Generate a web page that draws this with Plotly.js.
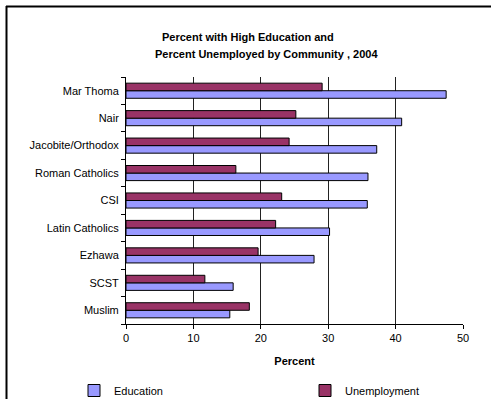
<!DOCTYPE html>
<html>
<head>
<meta charset="utf-8">
<script src="https://cdn.plot.ly/plotly-3.0.1.min.js"></script>
<style>
  html, body { margin: 0; padding: 0; background: #fff; }
  #chart { width: 491px; height: 399px; }
</style>
</head>
<body>
<div id="chart"></div>
<script>
// Communities, listed bottom-to-top along the category axis
const communities = ['Muslim', 'SCST', 'Ezhawa', 'Latin Catholics', 'CSI',
  'Roman Catholics', 'Jacobite/Orthodox', 'Nair', 'Mar Thoma'];
// Percent with high education
const education = [15.4, 15.9, 27.9, 30.2, 35.8, 35.9, 37.2, 40.9, 47.5];
// Percent unemployed
const unemployment = [18.3, 11.7, 19.6, 22.2, 23.1, 16.3, 24.2, 25.2, 29.1];
const xTicks = [0, 10, 20, 30, 40, 50];

const W = 491, H = 399;
const M = { l: 126, r: 28, t: 77, b: 75, autoexpand: false };
const pw = W - M.l - M.r, ph = H - M.t - M.b;
// pixel position -> paper coordinates
const px = x => (x - M.l) / pw;
const py = y => 1 - (y - M.t) / ph;

const font = 'Arial, "Liberation Sans", sans-serif';

const traces = [
  {
    type: 'bar', orientation: 'h', name: 'Education',
    y: communities, x: education,
    marker: { color: '#9999FF', line: { color: '#000', width: 1 } },
    hoverinfo: 'skip'
  },
  {
    type: 'bar', orientation: 'h', name: 'Unemployment',
    y: communities, x: unemployment,
    marker: { color: '#993366', line: { color: '#000', width: 1 } },
    hoverinfo: 'skip'
  }
];

const layout = {
  width: W, height: H,
  margin: M,
  paper_bgcolor: '#fff', plot_bgcolor: '#fff',
  font: { family: font, size: 11, color: '#000' },
  barmode: 'group', bargap: 0.45, bargroupgap: 0,
  showlegend: true,
  legend: {
    orientation: 'h', x: px(74), y: py(376), xanchor: 'left', yanchor: 'top',
    entrywidth: 186, itemwidth: 30, traceorder: 'normal',
    font: { family: font, size: 11 }, bgcolor: 'rgba(0,0,0,0)'
  },
  xaxis: {
    range: [0, 50], tickvals: xTicks, ticktext: xTicks.map(String),
    showgrid: true, gridcolor: '#222', gridwidth: 1,
    showline: true, linecolor: '#000', linewidth: 1,
    ticks: 'outside', ticklen: 4, tickcolor: '#000',
    zeroline: false, fixedrange: true, automargin: false,
    tickfont: { family: font, size: 11 },
    title: { text: '<b>Percent</b>', font: { family: font, size: 11 }, standoff: 14 }
  },
  yaxis: {
    type: 'category', categoryorder: 'array', categoryarray: communities,
    showline: true, linecolor: '#000', linewidth: 1,
    ticks: 'outside', ticklen: 4, tickcolor: '#000', tickson: 'boundaries',
    showgrid: false, fixedrange: true, automargin: false,
    tickfont: { family: font, size: 11 }, ticklabelstandoff: 4
  },
  annotations: [
    { text: '<b>Percent with High Education and</b>', xref: 'paper', yref: 'paper',
      x: px(248), y: py(37), xanchor: 'center', yanchor: 'middle', showarrow: false,
      font: { family: font, size: 11 } },
    { text: '<b>Percent Unemployed by Community , 2004</b>', xref: 'paper', yref: 'paper',
      x: px(266), y: py(54), xanchor: 'center', yanchor: 'middle', showarrow: false,
      font: { family: font, size: 11 } }
  ],
  shapes: [
    // frame around the chart
    { type: 'line', xref: 'paper', yref: 'paper', x0: px(6), x1: px(W + 5), y0: py(6.5), y1: py(6.5),
      line: { color: '#000', width: 2 } },
    { type: 'line', xref: 'paper', yref: 'paper', x0: px(6.5), x1: px(6.5), y0: py(6), y1: py(H + 5),
      line: { color: '#000', width: 2 } }
  ]
};

Plotly.newPlot('chart', traces, layout, { displayModeBar: false, staticPlot: true });
</script>
</body>
</html>
